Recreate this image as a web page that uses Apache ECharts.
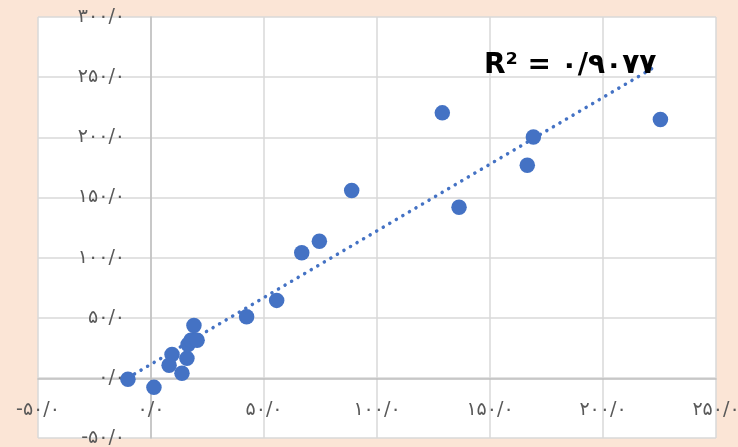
<!DOCTYPE html>
<html><head><meta charset="utf-8">
<script src="https://cdn.jsdelivr.net/npm/echarts@6/dist/echarts.min.js"></script>
<style>html,body{margin:0;padding:0;background:#FBE5D6;}#c{width:738px;height:447px;}</style>
</head><body><div id="c"></div>
<script>
var xValues = [-10.2, 1.3, 9.3, 8.0, 13.7, 15.9, 16.4, 17.7, 20.4, 19.0, 42.3, 55.6, 66.7, 74.5, 88.8, 128.9, 136.3, 166.5, 169.2, 225.4];
var yValues = [-1.2, -7.9, 19.5, 10.4, 3.8, 16.2, 27.8, 31.2, 31.2, 43.6, 50.8, 64.4, 104.0, 113.6, 155.7, 220.3, 141.9, 176.8, 200.3, 214.7];
var trendX = [-10.2, 222];
var trendY = [0, 257.5];
var r2Label = 'R\u00B2 = \u06F0/\u06F9\u06F0\u06F7\u06F7';

function fa(v){
  var s = Number(v).toFixed(1);
  var d = '\u06F0\u06F1\u06F2\u06F3\u06F4\u06F5\u06F6\u06F7\u06F8\u06F9';
  return s.replace(/[0-9]/g, function(c){return d[+c];}).replace('.', '/');
}
var pts = xValues.map(function(x,i){return [x, yValues[i]];});
var trend = trendX.map(function(x,i){return [x, trendY[i]];});
var chart = echarts.init(document.getElementById('c'));
var labelStyle = {color:'#595959', fontSize:19, fontFamily:'DejaVu Sans', formatter: fa};
chart.setOption({
  backgroundColor:'#FBE5D6',
  animation:false,
  grid:{left:38, right:22, top:17, bottom:9, show:true, backgroundColor:'#ffffff', borderWidth:0, containLabel:false, outerBoundsMode:'none'},
  xAxis:{type:'value', min:-50, max:250, interval:50, position:'bottom', offset:-59,
    axisLine:{onZero:false, lineStyle:{color:'#BFBFBF', width:1.5}},
    axisTick:{show:false},
    splitLine:{lineStyle:{color:'#D9D9D9', width:1.5}},
    axisLabel:Object.assign({margin:22}, labelStyle)},
  yAxis:{type:'value', min:-50, max:300, interval:50, position:'left', offset:-113,
    axisLine:{onZero:false, lineStyle:{color:'#BFBFBF', width:1.5}},
    axisTick:{show:false},
    splitLine:{lineStyle:{color:'#D9D9D9', width:1.5}},
    axisLabel:Object.assign({margin:26}, labelStyle)},
  series:[
    {type:'line', data:trend, symbol:'none', z:3,
      lineStyle:{color:'#4472C4', width:3.5, type:[0.1,7.5], cap:'round'}},
    {type:'scatter', data:pts, symbolSize:15.5, z:4, itemStyle:{color:'#4472C4', opacity:1}}
  ],
  graphic:[{type:'text', left:484, top:52, z:10,
    style:{text:r2Label, fill:'#000000', font:'bold 28px "DejaVu Sans"'}}]
});
</script></body></html>
